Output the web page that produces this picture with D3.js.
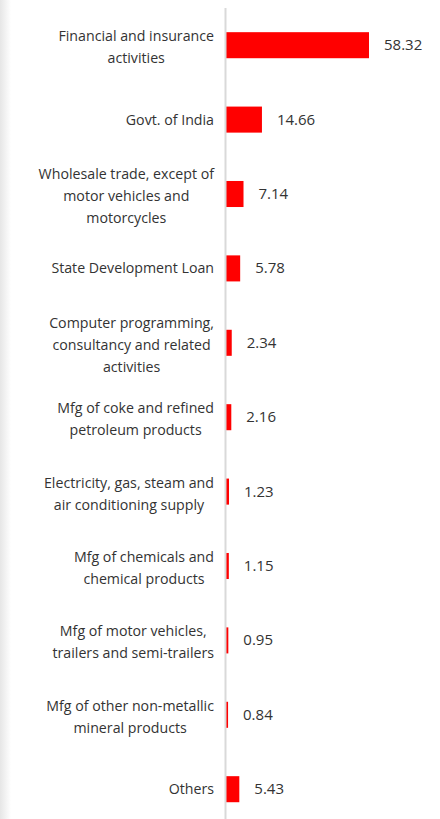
<!DOCTYPE html>
<html><head><meta charset="utf-8">
<script src="https://cdn.jsdelivr.net/npm/d3@7"></script>
<style>html,body{margin:0;padding:0;background:#fff;}svg{display:block;}</style>
</head><body>
<svg id="chart" width="440" height="819"></svg>
<script>
const categories = [
  ["Financial and insurance", "activities"],
  ["Govt. of India"],
  ["Wholesale trade, except of", "motor vehicles and", "motorcycles"],
  ["State Development Loan"],
  ["Computer programming,", "consultancy and related", "activities"],
  ["Mfg of coke and refined", "petroleum products"],
  ["Electricity, gas, steam and", "air conditioning supply"],
  ["Mfg of chemicals and", "chemical products"],
  ["Mfg of motor vehicles,", "trailers and semi-trailers"],
  ["Mfg of other non-metallic", "mineral products"],
  ["Others"]
];
const values = [58.32, 14.66, 7.14, 5.78, 2.34, 2.16, 1.23, 1.15, 0.95, 0.84, 5.43];
const valueLabels = ["58.32", "14.66", "7.14", "5.78", "2.34", "2.16", "1.23", "1.15", "0.95", "0.84", "5.43"];

const svg = d3.select("#chart");
const W = 440, H = 819;
const x0 = 226;
const font = "'Open Sans', sans-serif";
const textColor = "#333333";

// left edge shading
const defs = svg.append("defs");
const grad = defs.append("linearGradient").attr("id", "edge").attr("x1", "0").attr("x2", "1");
grad.append("stop").attr("offset", "0").attr("stop-color", "#e6e6e6");
grad.append("stop").attr("offset", "1").attr("stop-color", "#ffffff");
svg.append("rect").attr("x", 0).attr("y", 0).attr("width", 11).attr("height", H).attr("fill", "url(#edge)");

const idx = d3.range(values.length);
const y = d3.scaleBand().domain(idx).range([8, 826.4]).paddingInner(0.65).paddingOuter(0.325);
const x = d3.scaleLinear().domain([0, 58.32]).range([x0, 369]);

svg.append("g").selectAll("rect").data(idx).join("rect")
  .attr("x", x(0))
  .attr("y", i => y(i))
  .attr("width", i => x(values[i]) - x(0))
  .attr("height", y.bandwidth())
  .attr("fill", "#ff0000");

// axis line
const axis = d3.axisLeft(y).tickSize(0).tickFormat("");
const ag = svg.append("g").attr("transform", `translate(${x0 - 0.5},0)`).call(axis);
ag.select(".domain").attr("stroke", "#d9d9d9").attr("stroke-width", 2).attr("d", `M0,8V${H}`);

// category labels: block right-aligned, lines centered within block
const lineH = 22;
const right = 214;
const cg = svg.append("g").attr("font-family", font).attr("font-size", 14.2).attr("fill", textColor);
idx.forEach(i => {
  const lines = categories[i];
  const cy = y(i) + y.bandwidth() / 2 + (lines.length > 1 ? 2 : 0);
  const t = cg.append("text").attr("y", cy - (lines.length - 1) * lineH / 2 + 5);
  const spans = lines.map((l, k) => t.append("tspan").attr("dy", k === 0 ? 0 : lineH).text(l));
  const widths = spans.map(s => s.node().getComputedTextLength());
  const maxW = d3.max(widths);
  const cx = right - maxW / 2;
  spans.forEach(s => s.attr("x", cx).attr("text-anchor", "middle"));
});

// value labels
svg.append("g").attr("font-family", font).attr("font-size", 15).attr("fill", textColor)
  .selectAll("text").data(idx).join("text")
  .attr("x", i => Math.max(x(values[i]), x0) + 15)
  .attr("y", i => y(i) + y.bandwidth() / 2 + 5)
  .text(i => valueLabels[i]);
</script>
</body></html>
